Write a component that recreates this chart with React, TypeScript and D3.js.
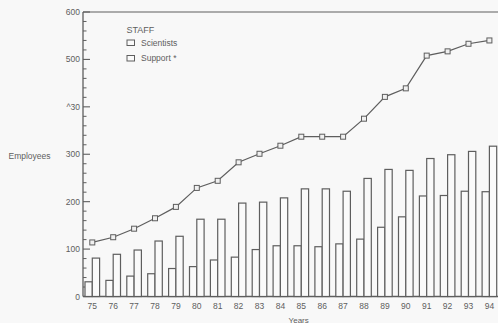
import React from "react";
import * as d3 from "d3";

const years = ["75","76","77","78","79","80","81","82","83","84","85","86","87","88","89","90","91","92","93","94"];
const scientists = [31,34,43,48,59,63,77,83,99,107,107,105,111,121,146,168,212,213,222,221];
const support = [81,89,98,117,127,163,163,197,199,208,227,227,222,249,268,266,291,299,306,317];
const totalStaff = [114,125,143,165,189,229,244,283,301,318,337,337,337,375,421,439,508,517,533,540];
const yTickValues = [0,100,200,300,400,500,600];
const yTickLabels = ["0","100","200","300","^30","500","600"];

const W = 498;
const H = 323;
const ink = "#5e5e5e";
const font = "'Liberation Sans', Arial, sans-serif";

export default function App() {
  const y = d3.scaleLinear().domain([0, 600]).range([296.5, 12]);
  const x = d3.scalePoint<string>().domain(years).range([92.3, 489.4]);
  const barW = 7.3;
  const axisX = 83;

  const line = d3
    .line<number>()
    .x((_, i) => x(years[i]) as number)
    .y((d) => y(d));

  const minorTicks = d3.range(0, 601, 20).filter((v) => v % 100 !== 0);

  return (
    <svg
      width={W}
      height={H}
      style={{ position: "absolute", left: 0, top: 0, background: "#f8f8f8" }}
      fontFamily={font}
    >
      <rect x={0} y={0} width={W} height={H} fill="#f8f8f8" />
      {/* frame */}
      <line x1={axisX} x2={W} y1={y(600)} y2={y(600)} stroke={ink} strokeWidth={1.2} />
      <line x1={axisX} x2={W} y1={y(0)} y2={y(0)} stroke={ink} strokeWidth={1.4} />
      <line x1={axisX} x2={axisX} y1={y(600)} y2={y(0)} stroke={ink} strokeWidth={1.3} />

      {/* y ticks */}
      {minorTicks.map((v) => (
        <line key={"m" + v} x1={axisX} x2={axisX + 3.5} y1={y(v)} y2={y(v)} stroke={ink} strokeWidth={1} />
      ))}
      {yTickValues.map((v, i) => (
        <g key={"t" + v}>
          <line x1={axisX} x2={axisX + 7} y1={y(v)} y2={y(v)} stroke={ink} strokeWidth={1.1} />
          <text x={80} y={y(v) + 3} textAnchor="end" fontSize={8.5} fill={ink}>
            {yTickLabels[i]}
          </text>
        </g>
      ))}

      {/* bars */}
      {years.map((yr, i) => {
        const xc = x(yr) as number;
        return (
          <g key={"b" + yr} fill="#fafafa" stroke={ink} strokeWidth={1.2}>
            <rect x={xc - barW} y={y(scientists[i])} width={barW} height={y(0) - y(scientists[i])} />
            <rect x={xc} y={y(support[i])} width={barW} height={y(0) - y(support[i])} />
          </g>
        );
      })}

      {/* total line */}
      <path d={line(totalStaff) || ""} fill="none" stroke={ink} strokeWidth={1.2} />
      {totalStaff.map((v, i) => (
        <rect
          key={"p" + i}
          x={(x(years[i]) as number) - 2.5}
          y={y(v) - 2.5}
          width={5}
          height={5}
          fill="#f0f0f0"
          stroke={ink}
          strokeWidth={1}
        />
      ))}

      {/* x labels */}
      {years.map((yr) => (
        <text key={"x" + yr} x={x(yr) as number} y={308.5} textAnchor="middle" fontSize={8.5} fill={ink}>
          {yr}
        </text>
      ))}
      <text x={298.7} y={322.5} textAnchor="middle" fontSize={8} fill={ink}>Years</text>
      <text x={29.5} y={159} textAnchor="middle" fontSize={8.5} fill={ink}>Employees</text>

      {/* legend */}
      <text x={126.5} y={32.5} fontSize={9} fill={ink}>STAFF</text>
      <rect x={127} y={40} width={7.5} height={5.5} fill="#fafafa" stroke={ink} strokeWidth={1} />
      <text x={141} y={45.5} fontSize={8.5} fill={ink}>Scientists</text>
      <rect x={127} y={55.5} width={7.5} height={5.5} fill="#fafafa" stroke={ink} strokeWidth={1} />
      <text x={141} y={61} fontSize={8.5} fill={ink}>Support *</text>
    </svg>
  );
}
